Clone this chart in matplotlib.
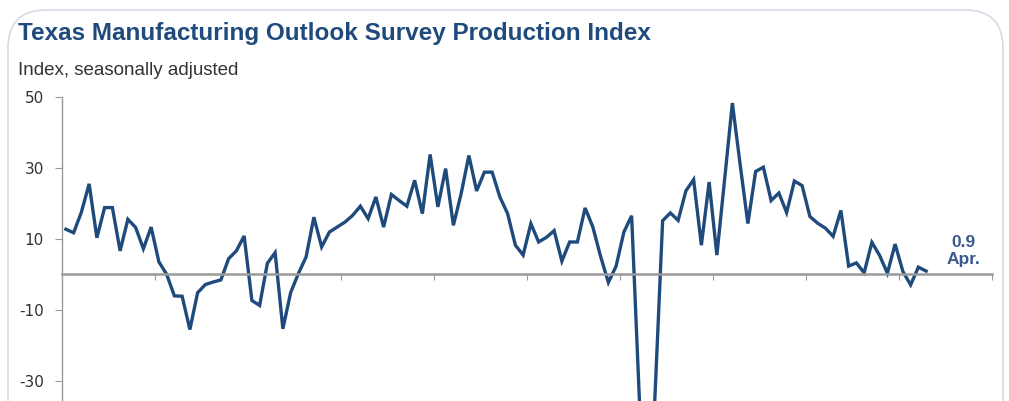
import numpy as np
import matplotlib
matplotlib.use("Agg")
import matplotlib.pyplot as plt
from matplotlib.patches import FancyBboxPatch
from matplotlib.transforms import IdentityTransform

# production index, monthly, Jan 2014 - Apr 2023
y2014 = [12.7, 11.7, 17.5, 25.5, 10.3, 18.8, 18.8, 6.6, 15.5, 13.2, 7.2, 13.3]
y2015 = [3.5, 0.0, -6.1, -6.2, -15.6, -5.2, -2.9, -2.2, -1.6, 4.4, 6.6, 10.8]
y2016 = [-7.4, -8.8, 3.1, 6.1, -15.4, -5.2, 0.2, 4.9, 16.1, 7.7, 11.9, 13.3]
y2017 = [14.7, 16.6, 19.2, 15.7, 21.8, 13.3, 22.5, 20.8, 19.2, 26.5, 17.1, 33.8]
y2018 = [19.0, 29.8, 13.8, 22.7, 33.5, 23.5, 28.8, 28.8, 21.8, 17.1, 8.2, 5.4]
y2019 = [14.3, 9.1, 10.4, 12.3, 3.7, 9.1, 9.1, 18.7, 13.3, 5.0, -2.3, 2.3]
y2020 = [11.9, 16.5, -35.3, -73.7, -35.0, 15.1, 17.3, 15.2, 23.5, 26.7, 8.2, 26.0]
y2021 = [5.4, 26.8, 48.3, 31.0, 14.3, 29.0, 30.2, 20.8, 22.9, 17.4, 26.3, 25.0]
y2022 = [16.3, 14.4, 13.0, 10.7, 18.0, 2.3, 3.2, 0.4, 9.0, 5.3, 0.3, 8.5]
y2023 = [0.8, -3.0, 2.0, 0.9]

values = y2014 + y2015 + y2016 + y2017 + y2018 + y2019 + y2020 + y2021 + y2022 + y2023
months = np.arange(len(values))
yticks = [50, 30, 10, -10, -30]
last_label = "0.9\nApr."

navy = "#1f4a7c"
grey = "#9a9a9a"

fig = plt.figure(figsize=(10.09, 4.01), dpi=100)
fig.patch.set_facecolor("white")

# rounded frame around the panel (pixel coords, runs off the bottom)
frame = FancyBboxPatch((8, -60), 995, 391 + 60,
                       boxstyle="round,pad=0,rounding_size=38",
                       transform=IdentityTransform(),
                       facecolor="white", edgecolor="#d5dce6", linewidth=1.2,
                       zorder=-5)
fig.add_artist(frame)

ax = fig.add_axes([62 / 1009, 1 - 451.5 / 401, 930 / 1009, 354.5 / 401])
ax.set_facecolor("none")
ax.set_zorder(2)
ax.plot(months, values, color=navy, linewidth=2.4, solid_joinstyle="miter")

ax.set_xlim(-0.5, 119.5)
ax.set_ylim(-50, 50)
ax.set_yticks(yticks)
ax.set_yticklabels([str(t) for t in yticks])
ax.tick_params(axis="y", direction="out", length=5, color=grey, labelsize=11,
               labelcolor="#333333", pad=8)

# year ticks sit on the zero line
ax.spines["bottom"].set_position(("data", 0))
ax.spines["bottom"].set_color(grey)
ax.spines["bottom"].set_linewidth(1.8)
ax.spines["left"].set_color(grey)
ax.spines["left"].set_linewidth(1.0)
ax.spines["top"].set_visible(False)
ax.spines["right"].set_visible(False)
ax.set_xticks(np.arange(11.5, 120, 12))
ax.tick_params(axis="x", direction="out", length=4, color=grey, labelbottom=False)

ax.text(len(values) + 3.8, 6.5, last_label, color="#3a5a8c", fontsize=12.5,
        fontweight="bold", ha="center", va="center", linespacing=1.2,
        family="Liberation Sans")

fig.text(18 / 1009, 1 - 40 / 401, "Texas Manufacturing Outlook Survey Production Index",
         color="#1f4a7c", fontsize=17.5, fontweight="bold", family="Liberation Sans",
         ha="left", va="baseline")
fig.text(18 / 1009, 1 - 75 / 401, "Index, seasonally adjusted",
         color="#333333", fontsize=13.5, family="Liberation Sans",
         ha="left", va="baseline")

fig.savefig("out.png", dpi=100)
